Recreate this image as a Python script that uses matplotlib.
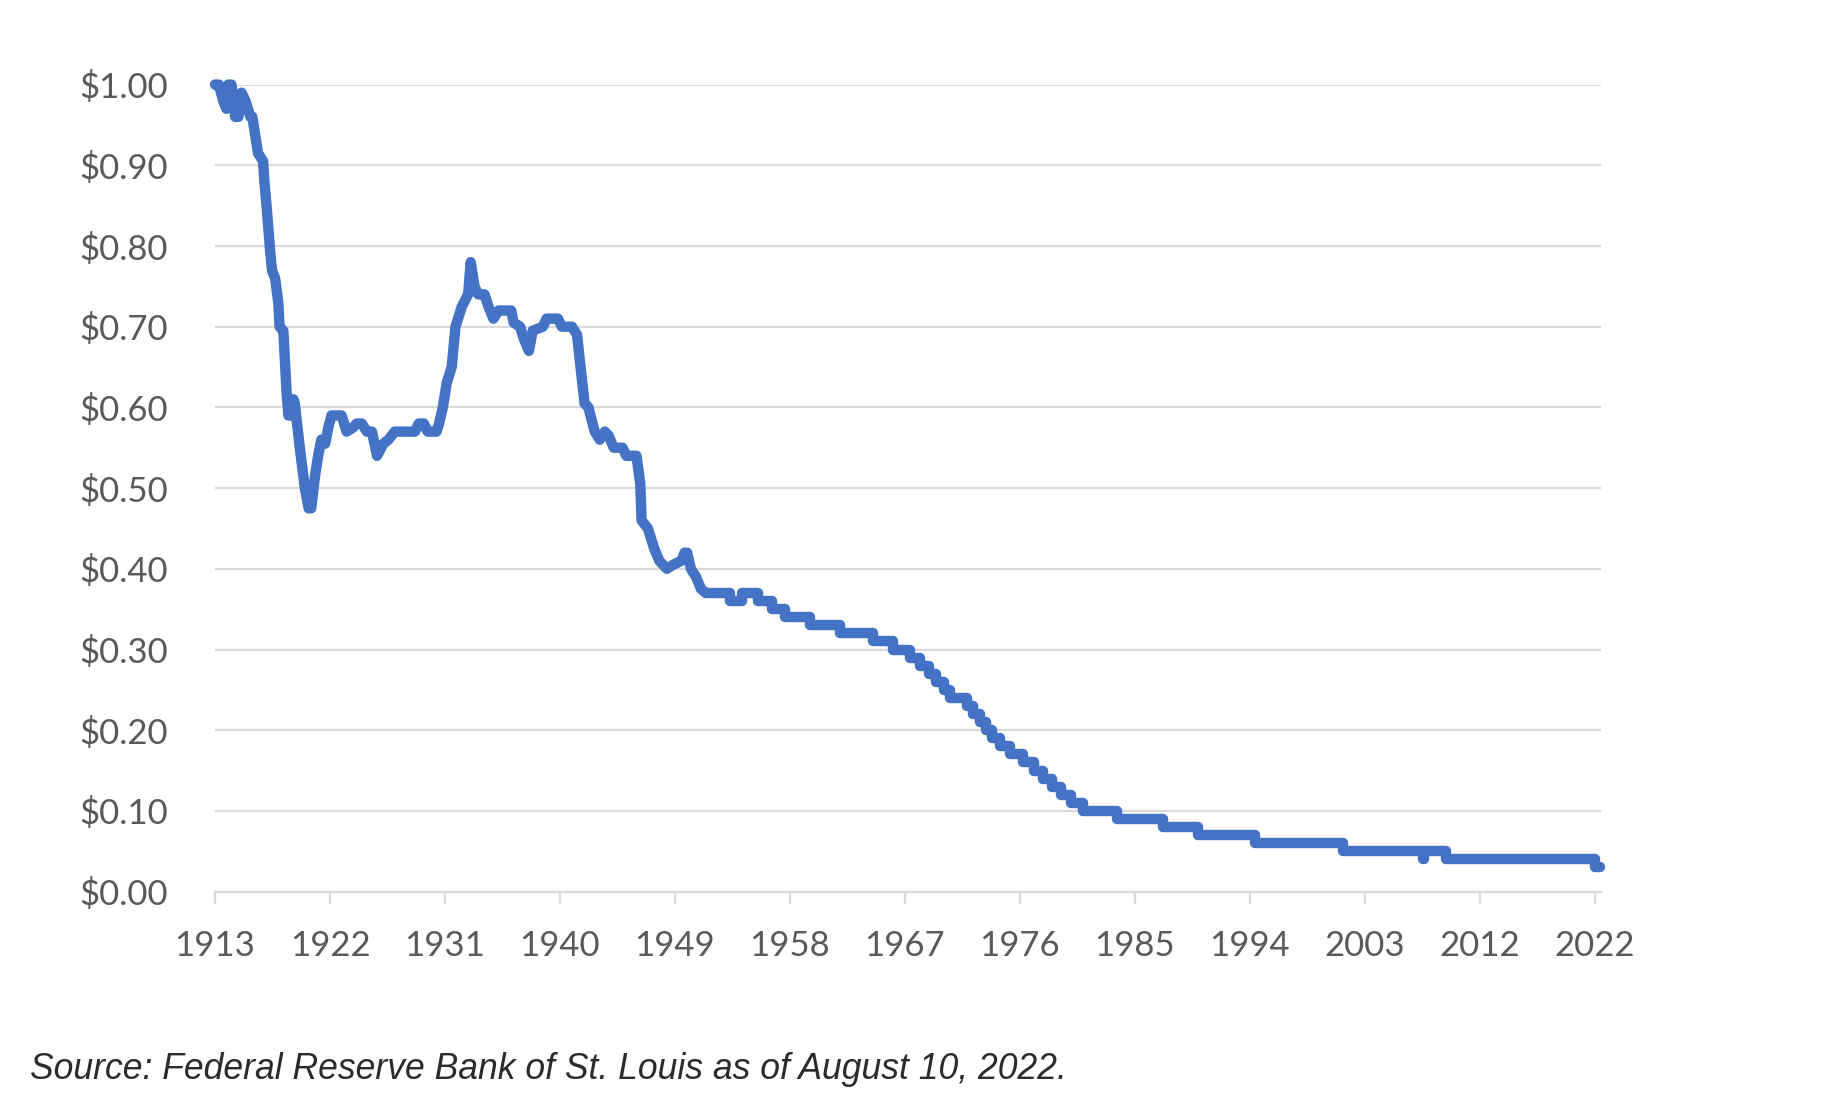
import matplotlib
matplotlib.use("Agg")
import matplotlib.pyplot as plt

# ---------------- data ----------------
# Early period: decimal year and purchasing power of $1 (1913 = $1.00)
early_years = [
    1913.0, 1913.3, 1913.65, 1913.9, 1914.05, 1914.3, 1914.6, 1914.85,
    1915.1, 1915.4, 1915.6, 1915.8, 1915.95, 1916.15, 1916.4, 1916.8,
    1916.9, 1917.1, 1917.35, 1917.5, 1917.75, 1918.0, 1918.1, 1918.4,
    1918.65, 1918.8, 1919.05, 1919.2, 1919.3, 1919.7, 1920.1, 1920.4,
    1920.6, 1920.9, 1921.15, 1921.4, 1921.7, 1921.95, 1922.2, 1923.0,
    1923.4, 1923.9, 1924.2, 1924.6, 1925.0, 1925.4, 1925.8, 1926.3,
    1926.7, 1927.2, 1928.8, 1929.1, 1929.5, 1929.8, 1930.5, 1930.7,
    1931.0, 1931.3, 1931.7, 1932.0, 1932.5, 1933.0, 1933.2, 1933.5,
    1933.8, 1934.3, 1934.6, 1935.0, 1935.4, 1936.4, 1936.6, 1937.1,
    1937.4, 1937.8, 1938.1, 1938.9, 1939.2, 1940.1, 1940.4, 1941.2,
    1941.6, 1941.95, 1942.2, 1942.5, 1943.0, 1943.4, 1943.8, 1944.1,
    1944.5, 1945.2, 1945.5, 1946.3, 1946.6, 1946.7, 1947.2, 1947.7,
    1948.1, 1948.7, 1949.2, 1949.85, 1950.1, 1950.3, 1950.6, 1951.0,
    1951.4, 1951.8,
]
early_values = [
    1.00, 1.00, 0.98, 0.97, 1.00, 1.00, 0.96, 0.96,
    0.99, 0.98, 0.97, 0.96, 0.96, 0.94, 0.915, 0.905,
    0.88, 0.845, 0.795, 0.77, 0.76, 0.73, 0.70, 0.695,
    0.62, 0.59, 0.59, 0.61, 0.605, 0.55, 0.50, 0.475,
    0.475, 0.515, 0.54, 0.56, 0.555, 0.575, 0.59, 0.59,
    0.57, 0.575, 0.58, 0.58, 0.57, 0.57, 0.54, 0.555,
    0.56, 0.57, 0.57, 0.58, 0.58, 0.57, 0.57, 0.58,
    0.60, 0.63, 0.65, 0.70, 0.725, 0.74, 0.78, 0.75,
    0.74, 0.74, 0.725, 0.71, 0.72, 0.72, 0.705, 0.70,
    0.685, 0.67, 0.695, 0.70, 0.71, 0.71, 0.70, 0.70,
    0.69, 0.64, 0.605, 0.60, 0.57, 0.56, 0.57, 0.565,
    0.55, 0.55, 0.54, 0.54, 0.505, 0.46, 0.45, 0.425,
    0.41, 0.40, 0.405, 0.41, 0.42, 0.42, 0.40, 0.39,
    0.375, 0.37,
]

# Later period: year at which each cent level begins (staircase)
step_years = [
    1951.8, 1953.7, 1954.6, 1955.9, 1957.0, 1958.0, 1960.0, 1962.4,
    1965.0, 1966.6, 1967.9, 1968.7, 1969.4, 1970.0, 1970.6, 1971.1,
    1972.4, 1972.9, 1973.4, 1973.9, 1974.4, 1975.0, 1975.8, 1976.8,
    1977.7, 1978.4, 1979.1, 1979.8, 1980.6, 1981.6, 1984.3, 1987.9,
    1990.7, 1995.2, 2002.1, 2008.4, 2008.55, 2010.25, 2022.0, 2022.45,
]
step_values = [
    0.37, 0.36, 0.37, 0.36, 0.35, 0.34, 0.33, 0.32,
    0.31, 0.30, 0.29, 0.28, 0.27, 0.26, 0.25, 0.24,
    0.23, 0.22, 0.21, 0.20, 0.19, 0.18, 0.17, 0.16,
    0.15, 0.14, 0.13, 0.12, 0.11, 0.10, 0.09, 0.08,
    0.07, 0.06, 0.05, 0.04, 0.05, 0.04, 0.03, 0.03,
]

x_tick_years = [1913, 1922, 1931, 1940, 1949, 1958, 1967, 1976, 1985,
                1994, 2003, 2012, 2022]
x_tick_months = [0, 109, 218, 327, 436, 545, 654, 763, 872, 981, 1090,
                 1199, 1308]
y_ticks = [0.0, 0.1, 0.2, 0.3, 0.4, 0.5, 0.6, 0.7, 0.8, 0.9, 1.0]
y_tick_labels = ["$0.00", "$0.10", "$0.20", "$0.30", "$0.40", "$0.50",
                 "$0.60", "$0.70", "$0.80", "$0.90", "$1.00"]
source_text = "Source: Federal Reserve Bank of St. Louis as of August 10, 2022."

# ---------------- figure ----------------
W, H = 1842, 1106
fig = plt.figure(figsize=(W / 100, H / 100), dpi=100)
ax = fig.add_axes([215 / W, (H - 891.6) / H, 1386 / W, 807 / H])

line_color = "#4472C4"
grid_color = "#D9D9D9"
text_color = "#595959"

line_kw = dict(color=line_color, lw=7.5, solid_capstyle="round",
               solid_joinstyle="round", zorder=3, clip_on=False)
ax.plot(early_years, early_values, **line_kw)
ax.plot(step_years, step_values, drawstyle="steps-post", **line_kw)

ax.set_xlim(1913.0, 1913.0 + 1314 / 12)
ax.set_ylim(0, 1.0)

ax.set_xticks([1913.0 + m / 12 for m in x_tick_months])
ax.set_xticklabels([str(y) for y in x_tick_years])
ax.set_yticks(y_ticks)
ax.set_yticklabels(y_tick_labels)

ax.yaxis.grid(True, color=grid_color, lw=1.6, zorder=0)
ax.set_axisbelow(True)
for s in ["top", "right", "left"]:
    ax.spines[s].set_visible(False)
ax.spines["bottom"].set_color(grid_color)
ax.spines["bottom"].set_linewidth(1.6)

ax.tick_params(axis="x", direction="out", length=8.5, width=1.6,
               color=grid_color, pad=19, labelcolor=text_color,
               labelsize=25)
ax.tick_params(axis="y", length=0, pad=34, labelcolor=text_color,
               labelsize=25)
for lab in ax.get_xticklabels() + ax.get_yticklabels():
    lab.set_family(["Lato", "DejaVu Sans"])

fig.text(30 / W, (H - 1079) / H, source_text, ha="left", va="baseline",
         fontsize=25.6, style="italic", color="#2b2b2b",
         family=["Liberation Sans", "DejaVu Sans"])

fig.savefig("out.png", dpi=100, facecolor="white")
